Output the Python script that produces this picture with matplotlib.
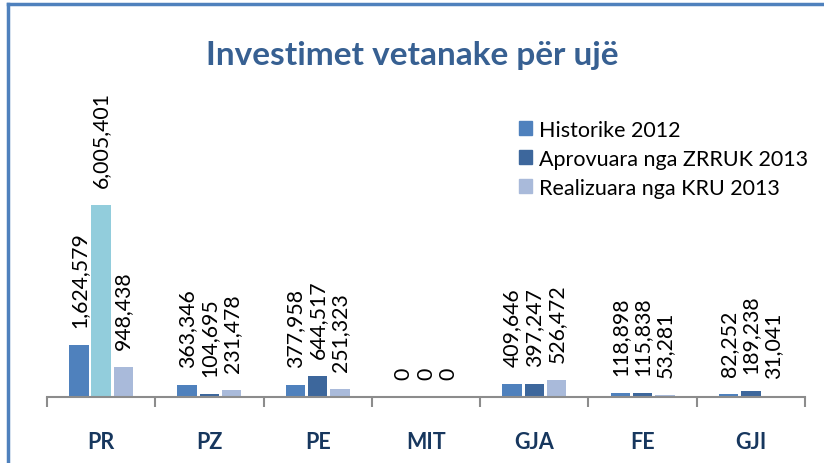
import matplotlib.pyplot as plt
from matplotlib.patches import Patch
from matplotlib.lines import Line2D
import numpy as np

categories = ['PR', 'PZ', 'PE', 'MIT', 'GJA', 'FE', 'GJI']
historike = [1624579, 363346, 377958, 0, 409646, 118898, 82252]
aprovuara = [6005401, 104695, 644517, 0, 397247, 115838, 189238]
realizuara = [948438, 231478, 251323, 0, 526472, 53281, 31041]
series_names = ['Historike 2012', 'Aprovuara nga ZRRUK 2013', 'Realizuara nga KRU 2013']

colors = ['#4F81BD', '#3D679C', '#A9BADA']
pr_highlight = '#92CDDC'

plt.rcParams['font.family'] = ['Lato', 'DejaVu Sans']

fig = plt.figure(figsize=(8.24, 4.64), dpi=100)
ax = fig.add_axes([47 / 824, 66 / 464, 758 / 824, 224 / 464])

x = np.arange(len(categories))
width = 0.18
offs = [-0.205, 0.0, 0.205]

for i, vals in enumerate([historike, aprovuara, realizuara]):
    cols = [colors[i]] * len(vals)
    if i == 1:
        cols[0] = pr_highlight
    bars = ax.bar(x + offs[i], vals, width, color=cols, label=series_names[i], zorder=2)
    for b, v in zip(bars, vals):
        ax.annotate('{:,}'.format(v), (b.get_x() + b.get_width() / 2, v),
                    xytext=(0, 13), textcoords='offset points',
                    rotation=90, ha='center', va='bottom', fontsize=15.3,
                    color='black', annotation_clip=False)

ax.set_xlim(-0.5, 6.5)
ax.set_ylim(0, 7000000)
for s in ['top', 'right', 'left']:
    ax.spines[s].set_visible(False)
ax.spines['bottom'].set_color('#8C8C8C')
ax.spines['bottom'].set_linewidth(1.5)
ax.set_yticks([])
ax.set_xticks(np.arange(-0.5, 7, 1))
ax.set_xticklabels([])
ax.tick_params(axis='x', length=7, width=1.5, color='#8C8C8C')
for xi, c in zip(x, categories):
    ax.text(xi, -0.2, c, transform=ax.get_xaxis_transform(), ha='center', va='center',
            fontsize=15.5, fontweight='bold', color='#17375E')

handles = [Patch(color=colors[0]), Patch(color=colors[1]), Patch(color=colors[2])]
fig.legend(handles, series_names, loc='upper left', bbox_to_anchor=(510 / 824, 1 - 112 / 464),
           frameon=False, fontsize=15.5, handlelength=0.6, handleheight=0.6,
           handletextpad=0.35, labelspacing=0.42, borderaxespad=0)

fig.text(0.5, 1 - 55 / 464, 'Investimet vetanake për ujë', ha='center', va='center',
         fontsize=24, fontweight='bold', color='#376092')

# chart border (only top and left visible)
fig.add_artist(Line2D([8 / 824, 8 / 824], [0, 1 - 5 / 464], transform=fig.transFigure,
                      color='#4F81BD', lw=2.5))
fig.add_artist(Line2D([8 / 824, 1], [1 - 5 / 464, 1 - 5 / 464], transform=fig.transFigure,
                      color='#4F81BD', lw=2.5))

fig.savefig('out.png', dpi=100)
